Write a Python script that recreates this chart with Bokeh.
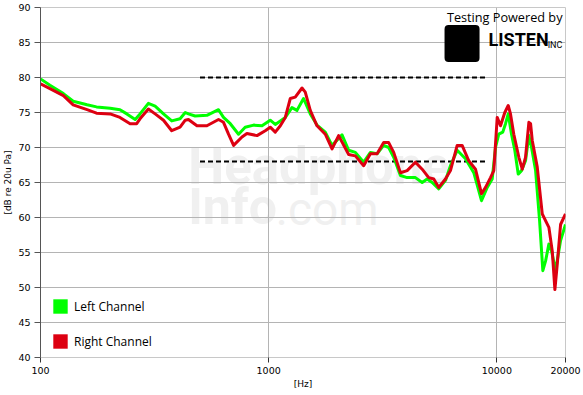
from bokeh.plotting import figure
from bokeh.models import (FixedTicker, NumeralTickFormatter, Range1d, Legend,
                          LegendItem, Label, BoxAnnotation)
from bokeh.embed import file_html
from bokeh.resources import INLINE

# ---------------- data ----------------
left_freq = [100, 110, 126, 139, 160, 176, 202, 223, 239, 260, 273, 297, 318, 346, 376,
             409, 431, 445, 476, 536, 603, 634, 679, 738, 789, 859, 935, 1016, 1069,
             1125, 1183, 1265, 1331, 1422, 1522, 1629, 1771, 1896, 2097, 2242, 2399,
             2609, 2792, 2987, 3192, 3358, 3532, 3780, 4045, 4398, 4707, 4950, 5206,
             5566, 5956, 6263, 6703, 7291, 7925, 8567, 9078, 9545, 9870, 10200, 10620,
             10920, 11220, 11600, 11990, 12410, 12830, 13360, 13820, 14200, 14790,
             15400, 15910, 16360, 16910, 17380, 18090, 19030, 20000]
left_db = [79.8, 78.9, 77.7, 76.6, 76.1, 75.8, 75.6, 75.4, 74.8, 74.0, 74.8, 76.3, 75.9,
           74.8, 73.8, 74.1, 75.0, 74.8, 74.5, 74.6, 75.4, 74.3, 73.4, 71.9, 72.9, 73.2,
           73.1, 73.9, 73.3, 73.8, 74.3, 75.7, 75.3, 77.0, 74.8, 73.2, 72.2, 70.3, 71.8,
           69.6, 69.3, 67.9, 69.3, 69.1, 70.3, 70.0, 68.6, 66.0, 65.7, 65.7, 65.0, 65.5,
           65.0, 64.1, 65.3, 67.4, 69.6, 68.4, 66.4, 62.4, 64.3, 65.5, 70.0, 71.9, 72.2,
           73.4, 74.8, 71.9, 69.6, 66.2, 66.7, 68.1, 71.7, 70.0, 66.7, 59.5, 52.4, 53.8,
           56.2, 55.2, 52.4, 56.7, 59.0]

right_freq = [100, 110, 126, 139, 160, 176, 202, 223, 247, 264, 273, 297, 318, 346, 376,
              409, 431, 445, 485, 536, 603, 634, 667, 702, 764, 803, 889, 966, 1016,
              1069, 1125, 1183, 1244, 1308, 1400, 1447, 1522, 1629, 1771, 1896, 2026,
              2242, 2399, 2609, 2792, 2987, 3192, 3358, 3532, 3780, 4045, 4398, 4707,
              5030, 5291, 5566, 5956, 6263, 6703, 7047, 7535, 8063, 8567, 8924, 9383,
              9701, 10040, 10380, 10840, 11220, 11480, 11870, 12490, 12930, 13360,
              13820, 14060, 14300, 15040, 15820, 16910, 17500, 17970, 18400, 19030, 20000]
right_db = [79.1, 78.4, 77.4, 76.1, 75.4, 74.9, 74.8, 74.3, 73.4, 73.4, 74.1, 75.5, 74.8,
            73.9, 72.4, 72.9, 73.9, 74.0, 73.1, 73.1, 74.0, 73.6, 71.9, 70.3, 71.5, 72.0,
            71.7, 72.4, 72.9, 72.2, 73.1, 74.3, 77.0, 77.2, 78.5, 77.9, 75.3, 73.1, 71.9,
            69.8, 71.7, 69.0, 68.8, 67.4, 69.1, 69.1, 70.7, 70.7, 69.3, 66.4, 66.7, 67.9,
            66.9, 65.7, 65.5, 64.3, 65.5, 66.7, 70.3, 70.3, 68.1, 66.9, 63.4, 64.3, 65.7,
            66.7, 74.3, 73.1, 75.0, 76.0, 74.8, 71.9, 68.6, 66.9, 68.6, 73.6, 73.4, 71.0,
            67.2, 60.5, 58.6, 55.2, 49.7, 53.3, 59.0, 60.5]

target_freq = [500, 9000]
upper_db = [80, 80]
lower_db = [68, 68]

x_ticks = [100, 1000, 10000, 20000]
y_ticks = [40, 45, 50, 55, 60, 65, 70, 75, 80, 85, 90]

series_labels = ["Left Channel", "Right Channel"]
GREEN = "#00ff00"
RED = "#dd0011"
NAN = float("nan")

# ---------------- figure ----------------
p = figure(width=583, height=395, x_axis_type="log",
           x_range=Range1d(100, 20000), y_range=Range1d(40, 90),
           output_backend="svg", toolbar_location=None,
           min_border_left=40, min_border_right=18, min_border_top=7,
           min_border_bottom=38)
p.background_fill_color = "white"
p.border_fill_color = "white"
p.outline_line_color = "#c8c8c8"

# axes
p.xaxis.ticker = FixedTicker(ticks=x_ticks, minor_ticks=[])
p.yaxis.ticker = FixedTicker(ticks=y_ticks, minor_ticks=[])
p.xaxis.formatter = NumeralTickFormatter(format="0")
for ax in (p.xaxis, p.yaxis):
    ax.major_label_text_font = "DejaVu Sans"
    ax.major_label_text_font_size = "9.5px"
    ax.major_label_text_color = "black"
    ax.major_tick_in = 0
    ax.minor_tick_line_color = None
    ax.axis_label_text_font = "DejaVu Sans"
    ax.axis_label_text_font_size = "9px"
    ax.axis_label_text_font_style = "normal"
    ax.axis_label_text_color = "black"
    ax.axis_label_standoff = 2
    ax.major_label_standoff = 4

p.yaxis.axis_label = "[dB re 20u Pa]"
p.yaxis.axis_line_color = "#555555"
p.yaxis.major_tick_line_color = "#555555"
p.yaxis.major_tick_out = 6
p.xaxis.axis_label = "[Hz]"
p.xaxis.axis_line_color = "#c8c8c8"
p.xaxis.major_tick_line_color = "#333333"
p.xaxis.major_tick_out = 5

p.xgrid.grid_line_color = "#b4b4b4"
p.ygrid.grid_line_color = "#b4b4b4"

# watermark
wm_color = "#f0f0f0"
p.add_layout(Label(x=444, y=63.1, text="Headphone", text_font="Roboto",
                   text_font_style="bold", text_font_size="51px", text_color=wm_color,
                   level="image"))
p.add_layout(Label(x=444, y=57.4, text="Info", text_font="Roboto",
                   text_font_style="bold", text_font_size="50px", text_color=wm_color,
                   level="image"))
p.add_layout(Label(x=1075, y=57.4, text=".com", text_font="Roboto",
                   text_font_size="46px", text_color=wm_color, level="image"))

# target lines
p.line(target_freq, upper_db, line_color="black", line_width=2, line_dash="5 3")
p.line(target_freq, lower_db, line_color="black", line_width=2, line_dash="5 3")

# curves
p.line(left_freq, left_db, line_color=GREEN, line_width=3, line_join="round")
p.line(right_freq, right_db, line_color=RED, line_width=3, line_join="round")

# legend (square swatches; proxy renderers with no visible data)
g_sw = p.quad(left=[NAN], right=[NAN], top=[NAN], bottom=[NAN],
              fill_color=GREEN, line_color=None)
r_sw = p.quad(left=[NAN], right=[NAN], top=[NAN], bottom=[NAN],
              fill_color=RED, line_color=None)
legend = Legend(items=[LegendItem(label=series_labels[0], renderers=[g_sw]),
                       LegendItem(label=series_labels[1], renderers=[r_sw])],
                location=(11, 7), orientation="vertical",
                glyph_width=18, glyph_height=18, label_height=18, label_standoff=5,
                spacing=17, padding=0, margin=0, border_line_color=None,
                background_fill_alpha=0, label_text_font="Open Sans",
                label_text_font_size="12px", label_text_color="black")
p.add_layout(legend)

# logo
p.add_layout(Label(x=19400, y=87.4, text="Testing Powered by", text_align="right",
                   text_font="Open Sans", text_font_size="12.7px", text_color="black"))
p.add_layout(BoxAnnotation(left=5900, right=8400, top=87.5, bottom=82.2,
                           fill_color="black", fill_alpha=1, line_color=None,
                           border_radius=4))
p.add_layout(Label(x=9200, y=83.9, text="LISTEN", text_font="Roboto",
                   text_font_style="bold", text_font_size="18px", text_color="black"))
p.add_layout(Label(x=16700, y=83.9, text="INC", text_font="Roboto",
                   text_font_size="9px", text_color="black"))

open("out.html", "w").write(file_html(p, INLINE))
